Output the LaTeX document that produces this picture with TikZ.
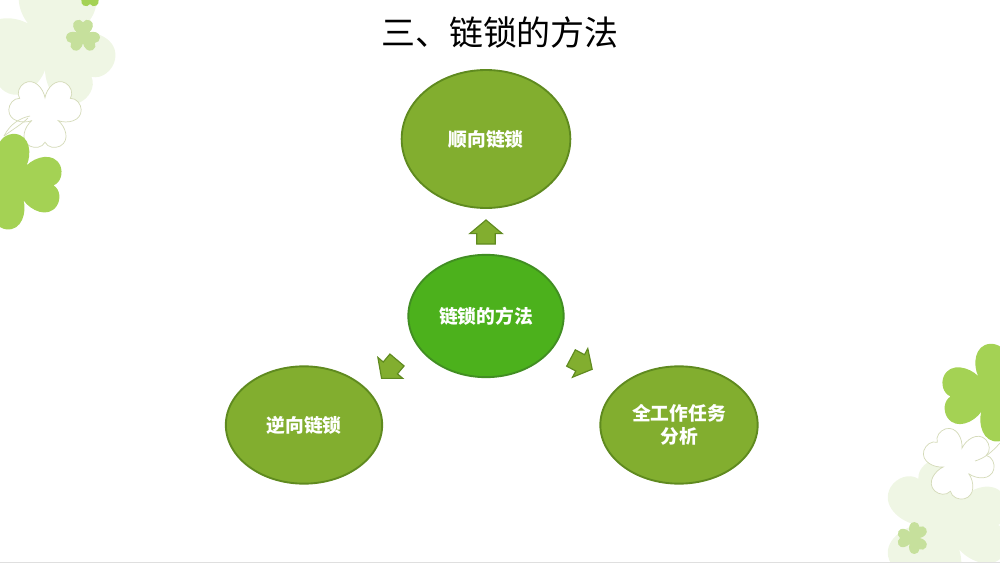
\documentclass[tikz,border=0pt]{standalone}
\usepackage{fontspec}
\usepackage{tikz}
\usetikzlibrary{shapes.geometric,shapes.arrows}
\newfontfamily\cjk{Noto Sans CJK SC}

\definecolor{palegreen}{HTML}{EFF6E4}
\definecolor{softgreen}{HTML}{C6E09C}
\definecolor{leafgreen}{HTML}{A4D254}
\definecolor{lineleaf}{HTML}{D4DAB8}
\definecolor{olivefill}{HTML}{82AE2F}
\definecolor{oliveline}{HTML}{5F8A1F}
\definecolor{mainfill}{HTML}{4CB11C}
\definecolor{mainline}{HTML}{418E22}

\tikzset{
  sidecircle/.style={ellipse,draw=oliveline,fill=olivefill,line width=1.6pt,inner sep=0pt,outer sep=0pt,
    text=white,align=center,font=\cjk\bfseries\fontsize{16}{20}\selectfont},
  maincircle/.style={sidecircle,draw=mainline,fill=mainfill},
  blockarrow/.style={single arrow,draw=oliveline,fill=olivefill,line width=1pt,anchor=tail,
    minimum height=0.72cm,minimum width=0.96cm,inner xsep=0pt,inner ysep=0.26cm,outer sep=0pt,
    single arrow head extend=0.21cm,single arrow tip angle=100},
  paleleaf/.style={fill=palegreen},
  softleaf/.style={fill=softgreen},
  fullleaf/.style={fill=leafgreen},
  openleaf/.style={draw=lineleaf,fill=white,line width=0.6pt},
  stemline/.style={draw=lineleaf,line width=0.6pt}
}

% x, y, size, turn, style
\newcommand{\clover}[5]{
  \path[#5,shift={(#1,#2)},rotate=#4,scale=#3] (-0.39,0.225)
    \foreach \a in {0,120,240} {
      .. controls ([rotate=\a]-0.6,0.4) and ([rotate=\a]-0.75,0.8) .. ([rotate=\a]-0.45,0.97)
      .. controls ([rotate=\a]-0.3,1.05) and ([rotate=\a]-0.08,1.02) .. ([rotate=\a]0,0.86)
      .. controls ([rotate=\a]0.08,1.02) and ([rotate=\a]0.3,1.05) .. ([rotate=\a]0.45,0.97)
      .. controls ([rotate=\a]0.75,0.8) and ([rotate=\a]0.6,0.4) .. ([rotate=\a]0.39,0.225)
    } -- cycle;
}

\begin{document}
\begin{tikzpicture}[x=0.03cm,y=-0.03cm]
  \useasboundingbox (0,0) rectangle (1000,563);
  \clip (0,0) rectangle (1000,563);

  % Leaves, upper left
  \clover{50}{42}{63}{50}{paleleaf}
  \clover{83}{36}{16}{180}{softleaf}
  \clover{90}{-8}{14}{0}{fullleaf}
  \clover{45}{113}{34}{0}{openleaf}
  \draw[stemline] (4,136) .. controls (10,124) and (20,118) .. (30,116);
  \draw[stemline] (4,136) .. controls (12,130) and (22,124) .. (28,118);
  \clover{15}{182}{45}{85}{fullleaf}

  % Leaves, lower right
  \clover{945}{525}{62}{90}{paleleaf}
  \clover{913}{538}{15}{150}{softleaf}
  \clover{958}{463}{34}{105}{openleaf}
  \draw[stemline] (1000,443) .. controls (992,452) and (985,458) .. (975,461);
  \clover{990}{393}{46}{-85}{fullleaf}

  \draw[gray!25] (0,562) -- (1000,562);

  % Title
  \node (title) at (500,33) {\cjk\fontsize{29}{32}\selectfont 三、链锁的方法};

  % Nodes
  \node[sidecircle,minimum width=5.06cm,minimum height=4.14cm] (forward) at (486,139) {顺向链锁};
  \node[maincircle,minimum width=4.66cm,minimum height=3.67cm] (method) at (486,316) {链锁的方法};
  \node[sidecircle,minimum width=4.69cm,minimum height=3.52cm] (backward) at (304,425) {逆向链锁};
  \node[sidecircle,minimum width=4.72cm,minimum height=3.52cm] (whole) at (679,425) {全工作任务\\分析};

  % Arrows
  \node[blockarrow,rotate=90] (toforward) at (486,244) {};
  \node[blockarrow,rotate=230] (tobackward) at (397,360) {};
  \node[blockarrow,rotate=-28] (towhole) at (571,358) {};

\end{tikzpicture}
\end{document}
